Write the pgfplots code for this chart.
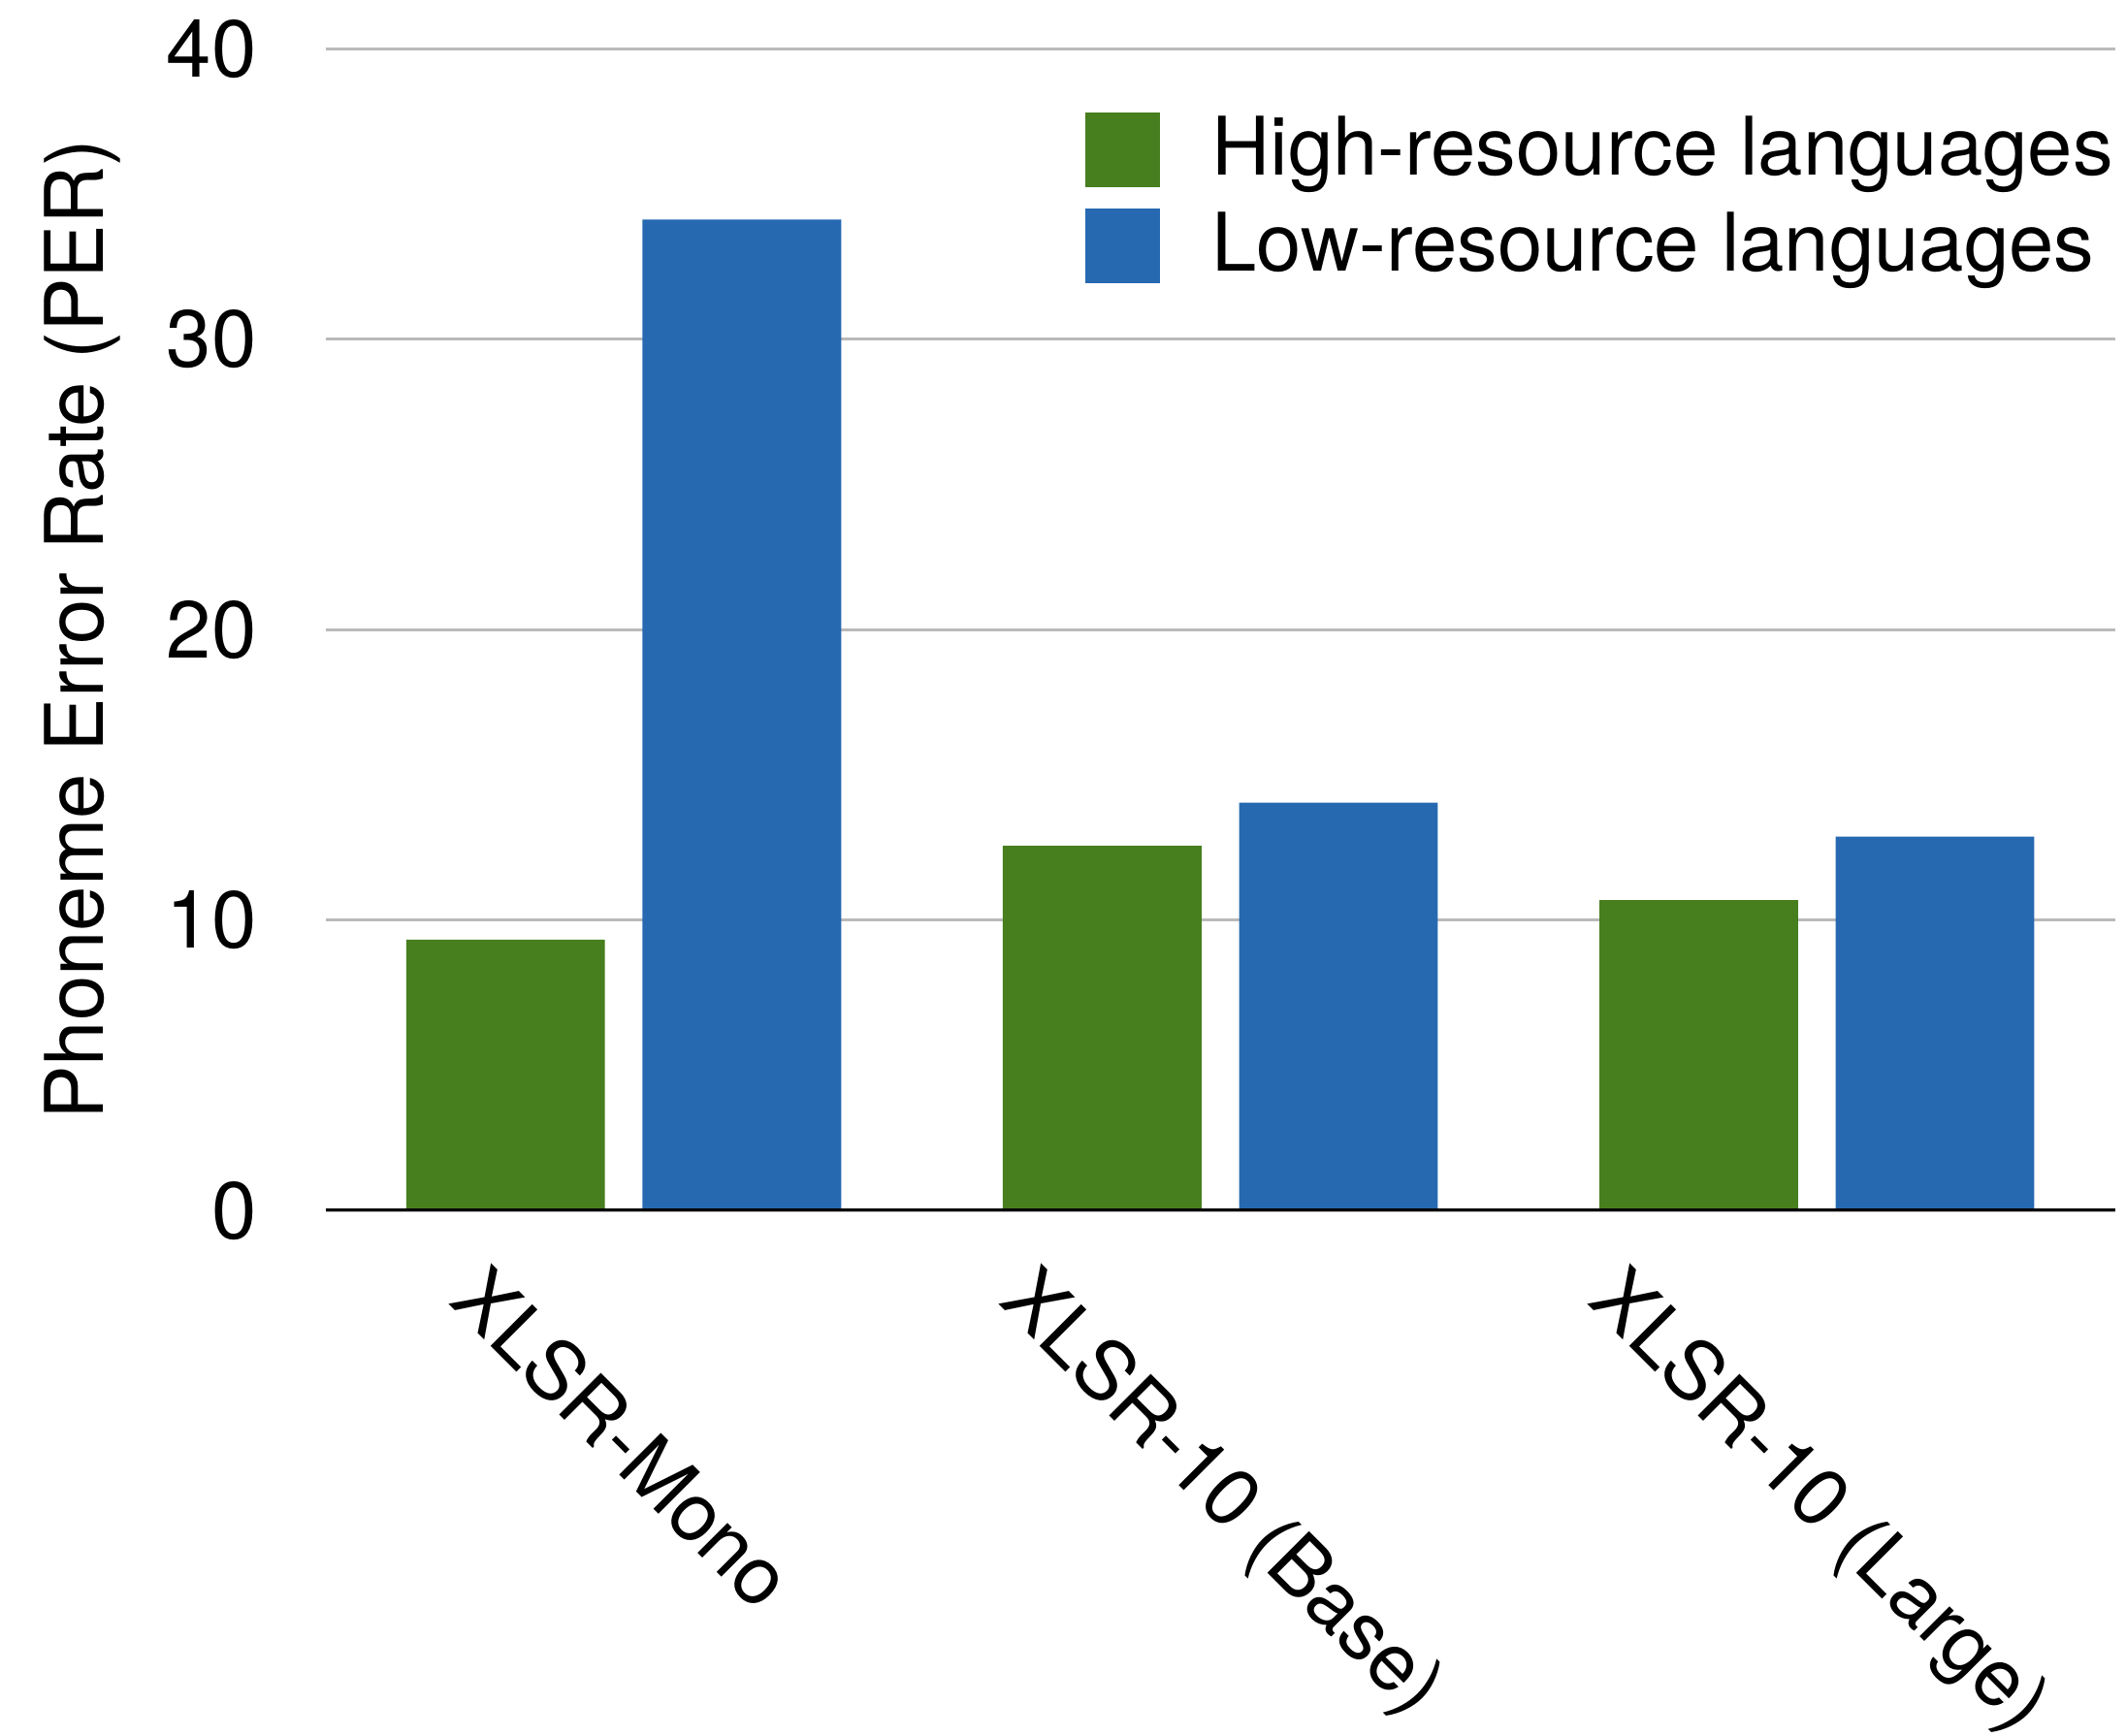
\documentclass[border=0pt]{standalone}
\usepackage{fontspec}
\setmainfont{TeX Gyre Heros}
\usepackage{graphicx}
\usepackage{pgfplots}
\pgfplotsset{compat=1.18}
\definecolor{hi}{HTML}{477E1E}
\definecolor{lo}{HTML}{2669B1}
\begin{document}
\begin{tikzpicture}[font=\fontsize{14.9}{17.8}\selectfont]
\begin{axis}[
  scale only axis, width=330pt, height=214.25pt,
  at={(0,0)}, anchor=south west,
  ybar, bar width=0.333,
  xmin=-0.5, xmax=2.5, ymin=0, ymax=40,
  ytick={0,10,20,30,40},
  xtick={0,1,2},
  xticklabels={\rotatebox{-45}{XLSR-Mono}, \rotatebox{-45}{XLSR-10 (Base)}, \rotatebox{-45}{XLSR-10 (Large)}},
  xticklabel style={anchor=north, inner sep=0pt, yshift=-9pt},
  yticklabel style={anchor=east, inner sep=0pt, xshift=-12.5pt},
  /pgf/number format/assume math mode=true,
  axis line style={draw=none},
  major tick length=0pt,
  ymajorgrids, grid style={color=black!27, line width=0.55pt},
  ylabel={Phoneme Error Rate (PER)},
  ylabel style={at={(axis description cs:-0.136,0.5)}, anchor=center},
  mylegend/.style={legend image code/.code={\fill[##1, draw=none] (0pt,-6.9pt) rectangle (13.75pt,6.9pt); \path (0pt,-9.3pt);}},
  legend style={draw=none, fill=none, at={(axis description cs:0.4242,0.946)}, anchor=north west,
    inner sep=0pt, row sep=1.4pt, column sep=0pt, nodes={inner sep=0pt, anchor=west},
    /tikz/every odd column/.append style={column sep=9.5pt}},
  legend cell align=left,
]
\addplot[fill=hi, draw=none, bar shift=-0.198, mylegend] coordinates {(0,9.33) (1,12.56) (2,10.69)};
\addlegendentry{High-resource languages}
\addplot[fill=lo, draw=none, bar shift=0.198, mylegend] coordinates {(0,34.12) (1,14.05) (2,12.88)};
\addlegendentry{Low-resource languages}
\draw[black, line width=0.75pt] (rel axis cs:0,0) -- (rel axis cs:1,0);
\end{axis}
\pgfresetboundingbox
\useasboundingbox (-60pt,-96.75pt) rectangle (332pt,223.25pt);
\end{tikzpicture}
\end{document}
